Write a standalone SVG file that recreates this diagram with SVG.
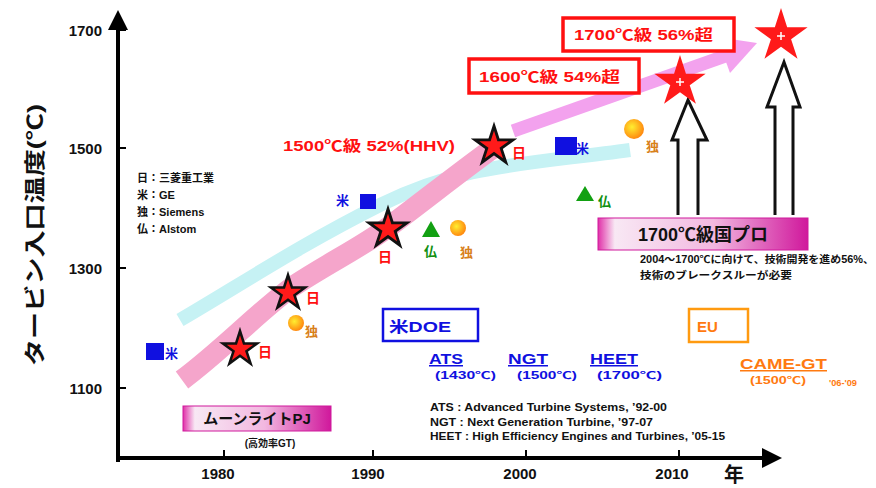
<svg xmlns="http://www.w3.org/2000/svg" width="876" height="488" viewBox="0 0 876 488">
  <defs>
    <style>
      text { font-family: "Liberation Sans", "Noto Sans CJK JP", sans-serif; font-weight: bold; }
      .axis { stroke: #000; stroke-width: 4; fill: none; }
      .tick { stroke: #000; stroke-width: 2; }
      .tl { font-size: 15px; fill: #111; }
      .red { fill: #ff1010; }
      .blue { fill: #1010e0; }
      .orange { fill: #ff7a10; }
      .brown { fill: #d8801a; }
      .green { fill: #109010; }
      .note { font-size: 10px; fill: #111; }
      .mstar { fill: #ff1a1a; stroke: #111; stroke-width: 14; stroke-linejoin: miter; }
      .bstar { fill: #ff1a1a; }
      .sq { fill: #1010e0; }
      .tri { fill: #12a012; }
      .circ { fill: url(#ball); }
      .rbox { fill: #fff; stroke: #ff1010; stroke-width: 3.5; }
    </style>
    <path id="star" d="M0,-100 L22,-31 L95,-31 L36,12 L59,81 L0,38 L-59,81 L-36,12 L-95,-31 L-22,-31 Z"/>
    <radialGradient id="ball" cx="0.4" cy="0.4" r="0.6">
      <stop offset="0" stop-color="#ffee30"/>
      <stop offset="1" stop-color="#ff8a10"/>
    </radialGradient>
    <linearGradient id="mag" x1="0" y1="0" x2="1" y2="0">
      <stop offset="0" stop-color="#e030a8"/>
      <stop offset="0.08" stop-color="#f8e8f4"/>
      <stop offset="0.55" stop-color="#f2b8e0"/>
      <stop offset="1" stop-color="#d0189c"/>
    </linearGradient>
    <marker id="ax" viewBox="0 0 10 10" refX="2" refY="5" markerWidth="5" markerHeight="5" orient="auto" markerUnits="strokeWidth">
      <path d="M0,0 L10,5 L0,10 Z" fill="#000"/>
    </marker>
  </defs>

  <rect width="876" height="488" fill="#fff"/>

  <!-- trend bands, axes and arrows -->
  <g id="connectors">
    <path d="M180,320 C240,285 300,245 380,205 S520,165 630,150" fill="none" stroke="#c6f2f4" stroke-width="14" stroke-linecap="butt"/>
    <path d="M182,380 C220,352 255,315 292,287 C330,262 360,248 390,226 C430,196 465,168 496,146" fill="none" stroke="#f5a5cb" stroke-width="21"/>
    <path d="M513,131 L728,55" fill="none" stroke="#f3a2ee" stroke-width="13"/>
    <path d="M717,37 L757,43 L730,73 Z" fill="#f3a2ee"/>

    <line x1="118" y1="462" x2="118" y2="26" class="axis" marker-end="url(#ax)"/>
    <line x1="116" y1="458" x2="766" y2="458" class="axis" marker-end="url(#ax)"/>
    <line x1="118" y1="30" x2="126" y2="30" class="tick"/>
    <line x1="118" y1="148" x2="126" y2="148" class="tick"/>
    <line x1="118" y1="268" x2="126" y2="268" class="tick"/>
    <line x1="118" y1="388" x2="126" y2="388" class="tick"/>
    <line x1="224" y1="458" x2="224" y2="450" class="tick"/>
    <line x1="373" y1="458" x2="373" y2="450" class="tick"/>
    <line x1="526" y1="458" x2="526" y2="450" class="tick"/>
    <line x1="679" y1="458" x2="679" y2="450" class="tick"/>

    <path d="M678,215 L678,140 L672,140 L688,100 L707,140 L698,140 L698,215" fill="#fff" stroke="#111" stroke-width="3"/>
    <path d="M775,215 L775,107 L767,107 L784,62 L800,107 L793,107 L793,215" fill="#fff" stroke="#111" stroke-width="3"/>
  </g>

  <!-- axis labels -->
  <g id="axis-labels">
    <text class="tl" x="102" y="36" text-anchor="end">1700</text>
    <text class="tl" x="102" y="154" text-anchor="end">1500</text>
    <text class="tl" x="102" y="274" text-anchor="end">1300</text>
    <text class="tl" x="102" y="394" text-anchor="end">1100</text>
    <text class="tl" x="218" y="479" text-anchor="middle">1980</text>
    <text class="tl" x="368" y="479" text-anchor="middle">1990</text>
    <text class="tl" x="520" y="479" text-anchor="middle">2000</text>
    <text class="tl" x="672" y="479" text-anchor="middle">2010</text>
    <text x="734" y="482" font-size="20" fill="#111" text-anchor="middle">年</text>
    <text x="0" y="0" font-size="21" fill="#111" text-anchor="middle" transform="translate(42,235) rotate(-90)" textLength="262" lengthAdjust="spacingAndGlyphs">タービン入口温度(℃)</text>
  </g>

  <!-- maker legend -->
  <g id="legend" fill="#111">
    <text x="137" y="182" font-size="11">日：三菱重工業</text>
    <text x="137" y="199" font-size="11">米：GE</text>
    <text x="137" y="216" font-size="11">独：Siemens</text>
    <text x="137" y="233" font-size="11">仏：Alstom</text>
  </g>

  <!-- MHI stars -->
  <g id="mhi-1981">
    <use href="#star" class="mstar" transform="translate(240,349) scale(0.18)"/>
    <text x="258" y="357" font-size="14" class="red">日</text>
  </g>
  <g id="mhi-1984">
    <use href="#star" class="mstar" transform="translate(288,293) scale(0.18)"/>
    <text x="306" y="303" font-size="14" class="red">日</text>
  </g>
  <g id="mhi-1991">
    <use href="#star" class="mstar" transform="translate(388,229) scale(0.2)"/>
    <text x="378" y="262" font-size="14" class="red">日</text>
  </g>
  <g id="mhi-1998">
    <use href="#star" class="mstar" transform="translate(494,146) scale(0.2)"/>
    <text x="512" y="158" font-size="14" class="red">日</text>
  </g>
  <g id="target-1600">
    <use href="#star" class="bstar" transform="translate(680,82) scale(0.27)"/>
    <path d="M680,78 V86 M676,82 H684" stroke="#fff" stroke-width="1.5"/>
  </g>
  <g id="target-1700">
    <use href="#star" class="bstar" transform="translate(781,36) scale(0.28)"/>
    <path d="M781,32 V40 M777,36 H785" stroke="#fff" stroke-width="1.5"/>
  </g>

  <!-- GE squares -->
  <g id="ge-1">
    <rect x="146" y="343" width="18" height="17" class="sq"/>
    <text x="165" y="358" font-size="13" class="blue">米</text>
  </g>
  <g id="ge-2">
    <text x="336" y="205" font-size="13" class="blue">米</text>
    <rect x="360" y="194" width="16" height="15" class="sq"/>
  </g>
  <g id="ge-3">
    <rect x="555" y="137" width="22" height="18" class="sq"/>
    <text x="576" y="153" font-size="13" class="blue">米</text>
  </g>

  <!-- Siemens circles -->
  <g id="siemens-1">
    <circle cx="296" cy="323" r="8" class="circ"/>
    <text x="305" y="336" font-size="13" class="brown">独</text>
  </g>
  <g id="siemens-2">
    <circle cx="458" cy="228" r="8" class="circ"/>
    <text x="460" y="257" font-size="13" class="brown">独</text>
  </g>
  <g id="siemens-3">
    <circle cx="634" cy="129" r="10" class="circ"/>
    <text x="646" y="151" font-size="13" class="brown">独</text>
  </g>

  <!-- Alstom triangles -->
  <g id="alstom-1">
    <path d="M431,221 L440,237 L422,237 Z" class="tri"/>
    <text x="424" y="256" font-size="13" class="green">仏</text>
  </g>
  <g id="alstom-2">
    <path d="M585,186 L594,201 L576,201 Z" class="tri"/>
    <text x="598" y="206" font-size="13" class="green">仏</text>
  </g>

  <!-- performance notes -->
  <g id="note-1500">
    <text x="283" y="151" font-size="15" class="red" textLength="172" lengthAdjust="spacingAndGlyphs">1500℃級  52%(HHV)</text>
  </g>
  <g id="box-1600">
    <rect x="469" y="59" width="170" height="34" class="rbox"/>
    <text x="479" y="82" font-size="15" class="red" textLength="141" lengthAdjust="spacingAndGlyphs">1600℃級  54%超</text>
  </g>
  <g id="box-1700">
    <rect x="563" y="18" width="171" height="33" class="rbox"/>
    <text x="574" y="40" font-size="15" class="red" textLength="139" lengthAdjust="spacingAndGlyphs">1700℃級  56%超</text>
  </g>

  <!-- national programmes -->
  <g id="national-1700">
    <rect x="598" y="218" width="210" height="32" fill="url(#mag)" stroke="#d0189c" stroke-width="1"/>
    <text x="703" y="241" font-size="18" fill="#111" font-weight="normal" text-anchor="middle" font-family="'Noto Sans CJK JP', sans-serif">1700℃級国プロ</text>
    <text x="640" y="263" class="note" textLength="234" lengthAdjust="spacingAndGlyphs">2004～1700℃に向けて、技術開発を進め56%、</text>
    <text x="640" y="279" class="note" textLength="152" lengthAdjust="spacingAndGlyphs">技術のブレークスルーが必要</text>
  </g>
  <g id="moonlight">
    <rect x="183" y="406" width="148" height="25" fill="url(#mag)" stroke="#d0189c" stroke-width="1"/>
    <text x="257" y="424" font-size="15" fill="#111" font-weight="normal" text-anchor="middle" font-family="'Noto Sans CJK JP', sans-serif">ムーンライトPJ</text>
    <text x="270" y="447" class="note" text-anchor="middle">(高効率GT)</text>
  </g>
  <g id="doe">
    <rect x="383" y="309" width="95" height="32" fill="#fff" stroke="#1010e0" stroke-width="2.5"/>
    <text x="389" y="332" font-size="15" class="blue" textLength="62" lengthAdjust="spacingAndGlyphs">米DOE</text>
  </g>
  <g id="ats">
    <text x="429" y="364" font-size="15" class="blue" text-decoration="underline" textLength="34" lengthAdjust="spacingAndGlyphs">ATS</text>
    <text x="435" y="379" font-size="10" class="blue" textLength="61" lengthAdjust="spacingAndGlyphs">(1430℃)</text>
  </g>
  <g id="ngt">
    <text x="508" y="364" font-size="15" class="blue" text-decoration="underline" textLength="40" lengthAdjust="spacingAndGlyphs">NGT</text>
    <text x="517" y="379" font-size="10" class="blue" textLength="60" lengthAdjust="spacingAndGlyphs">(1500℃)</text>
  </g>
  <g id="heet">
    <text x="590" y="364" font-size="15" class="blue" text-decoration="underline" textLength="48" lengthAdjust="spacingAndGlyphs">HEET</text>
    <text x="597" y="379" font-size="10" class="blue" textLength="65" lengthAdjust="spacingAndGlyphs">(1700℃)</text>
  </g>
  <g id="eu">
    <rect x="689" y="309" width="59" height="33" fill="#fff" stroke="#ff9a10" stroke-width="2.5"/>
    <text x="697" y="332" font-size="15" class="orange">EU</text>
  </g>
  <g id="camel-gt">
    <text x="740" y="369" font-size="15" class="orange" text-decoration="underline" textLength="87" lengthAdjust="spacingAndGlyphs">CAME-GT</text>
    <text x="750" y="384" font-size="10" class="orange" textLength="56" lengthAdjust="spacingAndGlyphs">(1500℃)</text>
    <text x="829" y="386" font-size="9" class="orange" textLength="28" lengthAdjust="spacingAndGlyphs">'06-'09</text>
  </g>
  <g id="programme-key">
    <text x="430" y="411" class="note" textLength="237" lengthAdjust="spacingAndGlyphs">ATS : Advanced Turbine Systems, ’92-00</text>
    <text x="430" y="426" class="note" textLength="223" lengthAdjust="spacingAndGlyphs">NGT : Next Generation Turbine, ’97-07</text>
    <text x="430" y="440" class="note" textLength="295" lengthAdjust="spacingAndGlyphs">HEET : High Efficiency Engines and Turbines, ’05-15</text>
  </g>
</svg>
